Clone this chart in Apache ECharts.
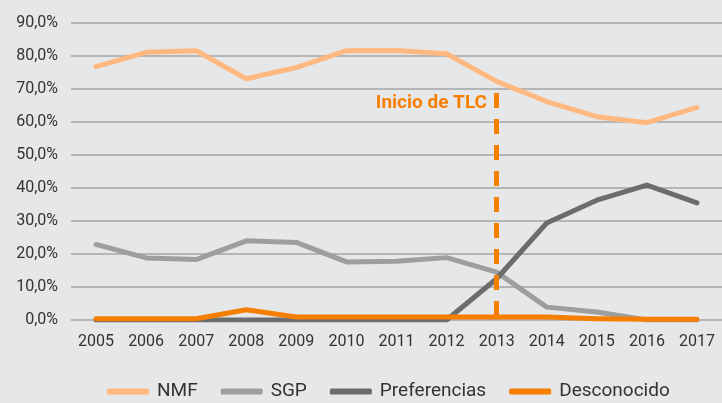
<!DOCTYPE html>
<html><head><meta charset="utf-8">
<script src="https://cdn.jsdelivr.net/npm/echarts@6/dist/echarts.min.js"></script>
<style>html,body{margin:0;padding:0;background:#e6e7e9}#c{width:722px;height:403px}</style>
</head><body><div id="c"></div>
<script>
const years = ['2005','2006','2007','2008','2009','2010','2011','2012','2013','2014','2015','2016','2017'];
const nmf = [76.8,81.1,81.6,73.1,76.5,81.6,81.7,80.7,72.3,66.2,61.6,59.8,64.4];
const sgp = [22.9,18.8,18.3,24.0,23.5,17.6,17.8,18.9,14.5,3.9,2.4,0,0];
const pref = [0,0,0,0,0,0,0,0,12.5,29.4,36.3,40.9,35.5];
const desc = [0.4,0.4,0.4,3.1,0.9,0.9,0.9,0.9,0.9,0.9,0.4,0.2,0.2];
const tlcYear = '2013';
const tlcTop = 68.8;
const tlcLabel = 'Inicio de TLC';

const chart = echarts.init(document.getElementById('c'));
const font = 'Roboto';
function ser(name, data, color, z) {
  return {name, type:'line', data, symbol:'none', z,
    lineStyle:{width:5, color, cap:'round', join:'round'}, itemStyle:{color}};
}
const s4 = ser('Desconocido', desc, '#f77f00', 5);
s4.markLine = {silent:true, symbol:'none', label:{show:false},
  lineStyle:{color:'#f77f00', width:5, type:[15,11]},
  data:[[{coord:[tlcYear,tlcTop]},{coord:[tlcYear,0]}]]};
chart.setOption({
  backgroundColor:'#e6e7e9',
  animation:false,
  grid:{left:71, right:0, top:23, bottom:83},
  xAxis:{type:'category', data:years, boundaryGap:true,
    axisLine:{show:false}, axisTick:{show:false},
    axisLabel:{color:'#333', fontFamily:font, fontSize:16, margin:14}},
  yAxis:{type:'value', min:0, max:90, interval:10,
    axisLine:{show:false}, axisTick:{show:false},
    splitLine:{lineStyle:{color:'#a3a4a6', width:1.5}},
    axisLabel:{color:'#333', fontFamily:font, fontSize:16, margin:13,
      formatter:v=>v.toFixed(1).replace('.',',')+'%'}},
  legend:{bottom:-3, left:102, icon:'roundRect', itemWidth:42, itemHeight:6, itemGap:23,
    textStyle:{color:'#333', fontFamily:font, fontSize:19, padding:[0,0,0,3]},
    data:['NMF','SGP','Preferencias','Desconocido']},
  series:[ser('NMF', nmf, '#ffb980', 2), ser('SGP', sgp, '#9d9ea0', 3), ser('Preferencias', pref, '#6b6c6e', 4), s4],
  graphic:[{type:'text', right:235, top:94, style:{text:tlcLabel, fill:'#f77f00', font:'bold 19px Roboto'}}]
});
</script></body></html>
